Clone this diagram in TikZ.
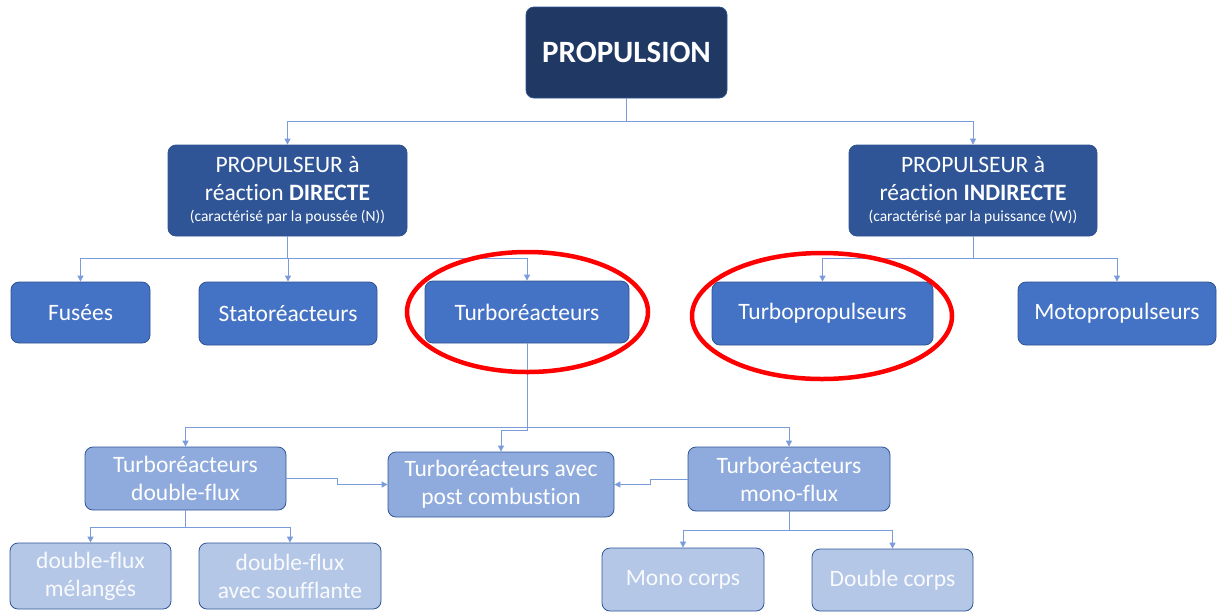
\documentclass[tikz,border=0pt]{standalone}
\usepackage{fontspec}
\setmainfont[Ligatures=NoCommon]{Carlito}
\usetikzlibrary{arrows.meta}

\definecolor{navy}{HTML}{203864}
\definecolor{bleuA}{HTML}{2F5597}
\definecolor{bleuB}{HTML}{4472C4}
\definecolor{bleuC}{HTML}{8FAADC}
\definecolor{bleuD}{HTML}{B4C7E7}
\definecolor{bord}{HTML}{2F528F}
\definecolor{trait}{HTML}{7A9CDA}

\tikzset{
  boite/.style={draw=bord, line width=0.8pt, rounded corners=8pt, text=white,
    align=center, inner sep=0pt, font=\fontsize{23.5}{28}\selectfont},
  propbox/.style={boite, fill=navy, font=\fontsize{31}{36}\selectfont\bfseries},
  reacbox/.style={boite, fill=bleuA},
  famillebox/.style={boite, fill=bleuB},
  sousbox/.style={boite, fill=bleuC, draw=bleuA},
  detailbox/.style={boite, fill=bleuD, draw=bleuA, text=white!92!bleuD},
  lien/.style={draw=trait, line width=0.9pt, -{Triangle[length=6pt,width=6pt]}},
  entoure/.style={draw=red, line width=4.5pt}
}

\begin{document}
\begin{tikzpicture}[x=1pt, y=-1pt]
    \useasboundingbox (0,0) rectangle (1217,611);

    % Top
    \node[propbox, minimum width=201, minimum height=91] (prop) at (626.5,52.5) {PROPULSION};

    % Direct / indirect reaction
    \node[reacbox, minimum width=239, minimum height=91] (directe) at (287.5,190.5)
        {PROPULSEUR à\\réaction \textbf{DIRECTE}\\[-7pt]{\fontsize{15.5}{18}\selectfont (caractérisé par la poussée (N))}};
    \node[reacbox, minimum width=248, minimum height=91] (indirecte) at (973,190.5)
        {PROPULSEUR à\\réaction \textbf{INDIRECTE}\\[-7pt]{\fontsize{15.5}{18}\selectfont (caractérisé par la puissance (W))}};

    % Engine families
    \node[famillebox, minimum width=139, minimum height=61] (fusees) at (80.5,312.5) {Fusées};
    \node[famillebox, minimum width=178, minimum height=63] (stato) at (288,313.5) {Statoréacteurs};
    \node[famillebox, minimum width=204, minimum height=62] (turbo) at (527,312) {Turboréacteurs};
    \node[famillebox, minimum width=221, minimum height=63] (turbopro) at (822.5,313.5) {Turbopropulseurs};
    \node[famillebox, minimum width=198, minimum height=63] (moto) at (1117,313.5) {Motopropulseurs};

    % Turbojet types
    \node[sousbox, minimum width=201, minimum height=63] (dflux) at (185.5,478.5) {Turboréacteurs\\double-flux};
    \node[sousbox, minimum width=226, minimum height=65] (postc) at (501,484.5) {Turboréacteurs avec\\post combustion};
    \node[sousbox, minimum width=202, minimum height=64] (mflux) at (789,479) {Turboréacteurs\\mono-flux};

    % Sub types
    \node[detailbox, minimum width=161, minimum height=66] (melange) at (90.5,576) {double-flux\\mélangés};
    \node[detailbox, minimum width=182, minimum height=66] (souffl) at (290,576) {double-flux\\avec soufflante};
    \node[detailbox, minimum width=162, minimum height=63] (monoc) at (683,579.5) {Mono corps};
    \node[detailbox, minimum width=161, minimum height=62] (doublec) at (892.5,580) {Double corps};

    % Links
    \draw[lien] (prop.south) -- ++(0,23) -| (directe);
    \draw[lien] (prop.south) -- ++(0,23) -| (indirecte);

    \foreach \n in {fusees, stato, turbo}
        \draw[lien] (directe.south) -- ++(0,22) -| (\n);
    \foreach \n in {turbopro, moto}
        \draw[lien] (indirecte.south) -- ++(0,22) -| (\n);

    \draw[lien] (turbo.south) -- ++(0,84) -| (dflux);
    \draw[lien] (turbo.south) -- ++(0,84) -| (mflux);
    \draw[lien] (turbo.south) -- ++(0,87) -| (postc);

    \draw[lien] (dflux.east) -- ++(51,0) |- (postc);
    \draw[lien] (mflux.west) -- ++(-37,0) |- (postc);

    \foreach \n in {melange, souffl}
        \draw[lien] (dflux.south) -- ++(0,17) -| (\n);
    \foreach \n in {monoc, doublec}
        \draw[lien] (mflux.south) -- ++(0,19) -| (\n);

    % Highlighted families
    \draw[entoure] (527.5,312) ellipse [x radius=120.5, y radius=60];
    \draw[entoure] (822,316) ellipse [x radius=130, y radius=63];
\end{tikzpicture}
\end{document}
